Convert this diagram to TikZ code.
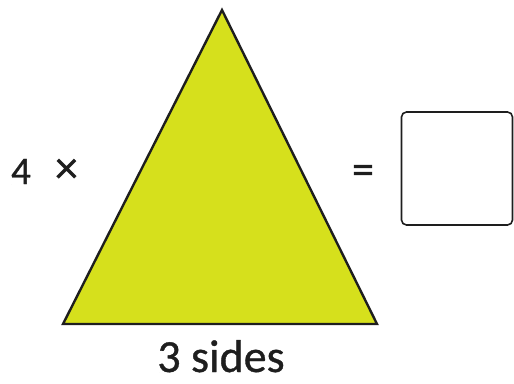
\documentclass[tikz,border=0pt]{standalone}
\usepackage{fontspec}
\setmainfont{Carlito}[FakeBold=0.8]
\usetikzlibrary{positioning}
\definecolor{trifill}{RGB}{214,224,28}
\definecolor{inkdark}{RGB}{30,30,30}

\begin{document}
\begin{tikzpicture}[x=1pt, y=-1pt, word/.style={text=inkdark, inner sep=0pt, anchor=base}, answer/.style={draw=inkdark, line width=1.6pt, rounded corners=5pt, minimum width=111pt, minimum height=113pt, inner sep=0pt}]

\useasboundingbox (0,0) rectangle (514,383);
\coordinate (apex) at (222,10);
\coordinate (left) at (63,324);
\coordinate (right) at (377,324);
\draw[fill=trifill, draw=inkdark, line width=2.4pt, line join=miter] (apex)--(right)--(left)--cycle;
\node[word, font=\fontsize{39}{42}\selectfont] (four) at (21,184) {4};
\node[word, font=\fontsize{46}{50}\selectfont] (times) at (66.5,183) {×};
\node[word, font=\fontsize{44}{48}\selectfont] (equals) at (363,184) {=};
\node[answer] (box) at (457,168.5) {};
\node[word, font=\fontsize{46}{50}\selectfont] (sides) at (221,372) {3 sides};

\end{tikzpicture}
\end{document}
